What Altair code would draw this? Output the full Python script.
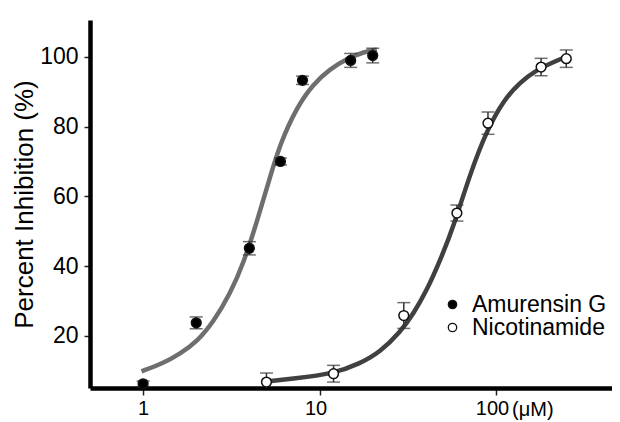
import altair as alt
import pandas as pd

FONT = "Liberation Sans"

SERIES = ["Amurensin G", "Nicotinamide"]
FITS = ["Amurensin G fit", "Nicotinamide fit"]

# measured data points (concentration in uM, percent inhibition, +/- error)
amu_conc = [1, 2, 4, 6, 8, 15, 20]
amu_pct = [6.2, 23.7, 45.1, 70.0, 93.3, 99.0, 100.4]
amu_err = [0.8, 1.7, 1.9, 1.0, 1.2, 2.0, 2.1]

nic_conc = [5, 12, 30, 60, 90, 180, 250]
nic_pct = [6.7, 9.1, 25.8, 55.2, 81.0, 97.1, 99.5]
nic_err = [2.6, 2.4, 3.7, 2.3, 3.2, 2.5, 2.5]

# fitted curves
amu_curve_conc = [0.98, 1.30, 1.62, 2.01, 2.50, 3.11, 3.70, 4.41, 5.13, 5.97,
                  7.43, 9.22, 11.5, 14.3, 17.7, 21.1]
amu_curve_pct = [9.8, 12.1, 14.8, 18.2, 23.9, 32.0, 40.7, 52.6, 64.0, 75.1,
                 85.6, 92.3, 96.6, 99.5, 101.4, 102.1]

nic_curve_conc = [5.02, 7.1, 12.0, 16.9, 22.0, 28.6, 34.0, 40.5, 48.2, 57.3,
                  71.3, 88.6, 110, 137, 170, 211, 251]
nic_curve_pct = [6.9, 7.7, 9.1, 12.0, 15.3, 21.0, 26.3, 33.0, 41.6, 51.2,
                 66.5, 78.9, 87.5, 92.8, 96.3, 98.5, 100.1]

x_ticks = [1, 10, 100]
y_ticks = [20, 40, 60, 80, 100]

pts = pd.DataFrame({
    "series": [SERIES[0]] * len(amu_conc) + [SERIES[1]] * len(nic_conc),
    "conc": amu_conc + nic_conc,
    "pct": amu_pct + nic_pct,
    "err": amu_err + nic_err,
})
pts["lo"] = pts["pct"] - pts["err"]
pts["hi"] = pts["pct"] + pts["err"]

curves = pd.DataFrame({
    "fit": [FITS[0]] * len(amu_curve_conc) + [FITS[1]] * len(nic_curve_conc),
    "conc": amu_curve_conc + nic_curve_conc,
    "pct": amu_curve_pct + nic_curve_pct,
})
curves["order"] = range(len(curves))

unit = pd.DataFrame({"conc": [100], "pct": [5], "txt": ["(\u03bcM)"]})

xscale = alt.Scale(type="log", domain=[0.5, 454], nice=False)
yscale = alt.Scale(domain=[5, 110.6], nice=False, zero=False)

xaxis = alt.Axis(values=x_ticks, title=None, labelFontSize=20, tickSize=7,
                 labelPadding=3, grid=False,
                 labelOffset={"condition": {"test": "datum.value >= 10", "value": -4},
                              "value": 0})
yaxis = alt.Axis(values=y_ticks, title="Percent Inhibition (%)", labelFontSize=23,
                 tickSize=6, labelPadding=6, grid=False, titleFontSize=26,
                 titleFontWeight="normal", titleX=-58, titleBaseline="alphabetic")

X = alt.X("conc:Q", scale=xscale, axis=xaxis)
Y = alt.Y("pct:Q", scale=yscale, axis=yaxis)

line = alt.Chart(curves).mark_line(strokeWidth=4.5, interpolate="basis").encode(
    x=X, y=Y,
    stroke=alt.Stroke("fit:N", scale=alt.Scale(domain=FITS, range=["#6e6e6e", "#404040"]),
                      legend=None),
    detail="fit:N",
    order="order:Q",
)

rules = alt.Chart(pts).mark_rule(color="#333", strokeWidth=1.5, clip=True).encode(
    x="conc:Q", y="lo:Q", y2="hi:Q")
cap_lo = alt.Chart(pts).mark_tick(color="#333", thickness=1.5, size=13,
                                  orient="horizontal", clip=True).encode(x="conc:Q", y="lo:Q")
cap_hi = alt.Chart(pts).mark_tick(color="#333", thickness=1.5, size=13,
                                  orient="horizontal", clip=True).encode(x="conc:Q", y="hi:Q")

points = alt.Chart(pts).mark_point(shape="circle", size=95, strokeWidth=1.5, opacity=1,
                                   filled=True, stroke="#111").encode(
    x="conc:Q", y="pct:Q",
    color=alt.Color("series:N", scale=alt.Scale(domain=SERIES, range=["#000000", "#ffffff"]),
                    legend=alt.Legend(orient="none", legendX=351, legendY=274.5, title=None,
                                      labelFontSize=23, labelFont=FONT, labelColor="#000",
                                      symbolSize=70, symbolType="circle",
                                      symbolStrokeColor="#111", symbolStrokeWidth=1.3,
                                      symbolOpacity=1, clipHeight=20,
                                      rowPadding=0, labelOffset=8, padding=0)),
)

unit_txt = alt.Chart(unit).mark_text(align="left", baseline="alphabetic", dx=16, dy=28,
                                     fontSize=20, font=FONT, color="#000").encode(
    x="conc:Q", y="pct:Q", text="txt:N")

chart = alt.layer(line, rules, cap_lo, cap_hi, points, unit_txt).properties(
    width=522, height=368,
    autosize=alt.AutoSizeParams(type="none"),
    padding={"left": 82, "top": 12, "right": 0, "bottom": 34},
).configure_view(stroke=None).configure_axis(
    domainColor="#000", domainWidth=4.5, tickColor="#222", tickWidth=1.5,
    labelFont=FONT, titleFont=FONT, labelColor="#000", titleColor="#000", zindex=1,
)

chart.save("out.html", embed_options={"renderer": "svg", "actions": False})
